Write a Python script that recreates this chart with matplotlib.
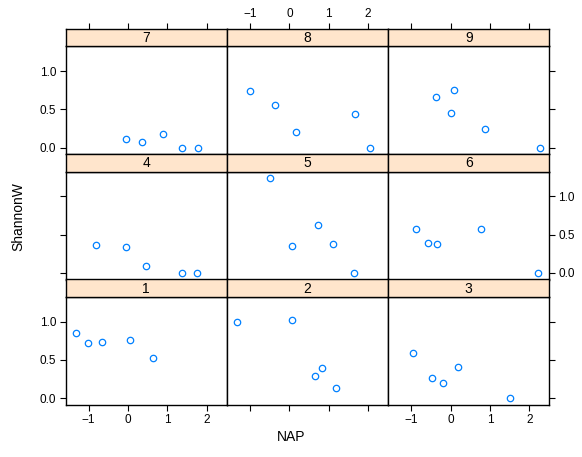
import matplotlib
matplotlib.use("Agg")
import matplotlib.pyplot as plt

plt.rcParams["font.family"] = ["Liberation Sans", "DejaVu Sans"]

# --- data (beach 1..9) ---
beaches = ["1", "2", "3", "4", "5", "6", "7", "8", "9"]
nap = [
    [-1.32, -1.02, -0.67, 0.06, 0.63],
    [-1.32, 0.07, 0.64, 0.83, 1.19],
    [-0.96, -0.48, -0.19, 0.18, 1.50],
    [-0.81, -0.04, 0.46, 1.37, 1.76],
    [-0.50, 0.06, 0.73, 1.12, 1.63],
    [-0.89, -0.57, -0.35, 0.77, 2.22],
    [-0.06, 0.36, 0.89, 1.38, 1.78],
    [-1.01, -0.37, 0.17, 1.67, 2.05],
    [-0.36, 0.09, 0.00, 0.86, 2.26],
]
shannon = [
    [0.85, 0.72, 0.74, 0.76, 0.53],
    [1.00, 1.02, 0.29, 0.40, 0.13],
    [0.59, 0.26, 0.20, 0.41, 0.00],
    [0.37, 0.34, 0.09, 0.00, 0.00],
    [1.24, 0.35, 0.63, 0.38, 0.00],
    [0.58, 0.39, 0.38, 0.58, 0.00],
    [0.11, 0.08, 0.18, 0.00, 0.00],
    [0.74, 0.56, 0.21, 0.44, 0.00],
    [0.66, 0.75, 0.46, 0.25, 0.00],
]
xticks = [-1, 0, 1, 2]
yticks = [0.0, 0.5, 1.0]

xlim = (-1.587, 2.506)
ylim = (-0.087, 1.327)

W, H = 582, 457
fig = plt.figure(figsize=(W / 100, H / 100), dpi=100)

col_left = [65.5, 226.8, 388.1]
col_w = 161.3
row_top = [29.0, 154.2, 279.4]
strip_h = 17.3
panel_h = 108.0

layout = [[6, 7, 8], [3, 4, 5], [0, 1, 2]]

def fig_rect(x, y, w, h):
    return [x / W, 1 - (y + h) / H, w / W, h / H]

tick_kw = dict(length=4.5, width=0.8, colors="black", labelsize=8.5, pad=2)
xfmt = plt.FuncFormatter(lambda v, p: f"{int(v)}".replace("-", "\u2212"))
yfmt = plt.FuncFormatter(lambda v, p: f"{v:.1f}")

for r in range(3):
    for c in range(3):
        i = layout[r][c]
        ax = fig.add_axes(fig_rect(col_left[c], row_top[r] + strip_h, col_w, panel_h))
        ax.plot(nap[i], shannon[i], "o", ls="none", mfc="none", mec="#0080ff",
                ms=4.6, mew=0.9)
        ax.set_xlim(*xlim)
        ax.set_ylim(*ylim)
        for s in ax.spines.values():
            s.set_linewidth(1.0)
        ax.set_xticks(xticks)
        ax.set_yticks(yticks)
        ax.tick_params(axis="both", direction="out", **tick_kw)
        ax.xaxis.set_major_formatter(xfmt)
        ax.yaxis.set_major_formatter(yfmt)

        # x axis: bottom only on last row
        show_bottom = r == 2
        ax.tick_params(axis="x", bottom=show_bottom, labelbottom=show_bottom and c != 1,
                       top=False, labeltop=False)
        # y axis: left on first col, right on last col
        ax.tick_params(axis="y", left=(c == 0), labelleft=(c == 0 and r != 1),
                       right=(c == 2), labelright=(c == 2 and r == 1))

        # strip
        sx = fig.add_axes(fig_rect(col_left[c], row_top[r], col_w, strip_h))
        sx.set_facecolor("#ffe5cc")
        sx.set_xlim(*xlim)
        sx.set_yticks([])
        for s in sx.spines.values():
            s.set_linewidth(1.0)
        sx.text(0.5, 0.47, beaches[i], transform=sx.transAxes, ha="center", va="center",
                fontsize=10)
        if r == 0:
            sx.set_xticks(xticks)
            sx.tick_params(axis="x", direction="out", bottom=False, labelbottom=False,
                           top=True, labeltop=(c == 1), **tick_kw)
            sx.xaxis.set_major_formatter(xfmt)
        else:
            sx.set_xticks([])

fig.text(291 / W, 1 - 437 / H, "NAP", ha="center", va="center", fontsize=10)
fig.text(18 / W, 1 - 217 / H, "ShannonW", ha="center", va="center", fontsize=10, rotation=90)

fig.savefig("out.png", dpi=100)
